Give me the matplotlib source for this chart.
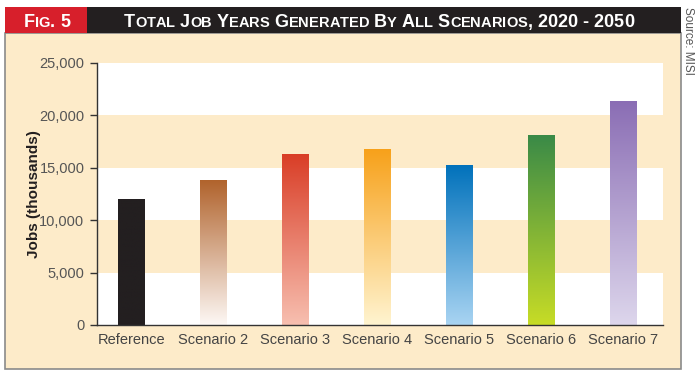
import numpy as np
import matplotlib.pyplot as plt
from matplotlib.colors import LinearSegmentedColormap
from matplotlib.patches import Rectangle

# datos
escenarios = ["Reference", "Scenario 2", "Scenario 3", "Scenario 4",
              "Scenario 5", "Scenario 6", "Scenario 7"]
empleos = [12000, 13850, 16330, 16780, 15280, 18090, 21400]
color_arriba = ["#231f20", "#b0622b", "#d93d26", "#f7a11a", "#0071bb", "#3a8a47", "#8a6db4"]
color_abajo = ["#231f20", "#fdf8f5", "#f7bfb0", "#fff4d0", "#a9d4f2", "#c7dc26", "#ddd6ec"]
yticks = [0, 5000, 10000, 15000, 20000, 25000]

fuente = ["Liberation Sans Narrow", "Liberation Sans", "DejaVu Sans"]
plt.rcParams["font.family"] = fuente

crema = "#fdebc9"
W, H = 700, 374
fig = plt.figure(figsize=(W / 100, H / 100), dpi=100, facecolor="white")

# panel crema y barra de titulo
fig.patches.append(Rectangle((5 / W, (H - 369) / H), 676 / W, 336 / H, transform=fig.transFigure,
                             facecolor=crema, edgecolor="#8a8a8a", linewidth=1.2, zorder=0))
fig.patches.append(Rectangle((5 / W, (H - 33) / H), 676 / W, 26 / H, transform=fig.transFigure,
                             facecolor="#231f20", edgecolor="none", zorder=1))
fig.patches.append(Rectangle((5 / W, (H - 33) / H), 82 / W, 26 / H, transform=fig.transFigure,
                             facecolor="#d71f2b", edgecolor="none", zorder=2))

ax = fig.add_axes([97 / W, (H - 325) / H, 566 / W, 262 / H])
ax.set_zorder(3)
ax.set_facecolor("white")
ax.axhspan(5000, 10000, color=crema, zorder=0, lw=0)
ax.axhspan(15000, 20000, color=crema, zorder=0, lw=0)

x = np.arange(len(escenarios))
barras = ax.bar(x, empleos, width=0.32, color="none", zorder=2)
for b, c1, c2 in zip(barras, color_arriba, color_abajo):
    cmap = LinearSegmentedColormap.from_list("g", [c2, c1])
    grad = np.linspace(0, 1, 256).reshape(-1, 1)
    im = ax.imshow(grad, extent=[b.get_x(), b.get_x() + b.get_width(), 0, b.get_height()],
                   origin="lower", aspect="auto", cmap=cmap, zorder=2)
    im.set_clip_path(b)

ax.set_xlim(-0.42, 6.49)
ax.set_ylim(0, 25000)
ax.set_xticks(x)
ax.set_xticklabels(escenarios, fontsize=10.5, color="#444444")
ax.set_yticks(yticks)
ax.set_yticklabels([f"{v:,}" for v in yticks], fontsize=10.5, color="#555555")
ax.tick_params(axis="x", length=0, pad=6)
ax.tick_params(axis="y", length=5, width=1, color="#333333", pad=4)
for s in ["top", "right"]:
    ax.spines[s].set_visible(False)
for s in ["left", "bottom"]:
    ax.spines[s].set_color("#333333")
    ax.spines[s].set_linewidth(1)
ax.set_ylabel("Jobs (thousands)", fontsize=11, fontweight="bold", color="#231f20", labelpad=-1)

fig.text(688 / W, (H - 7) / H, "Source: MISI", rotation=-90, ha="center", va="top",
         fontsize=8.5, color="#555555")

# versalitas a mano
renderer = fig.canvas.get_renderer()


def trozos(texto, grande, chico):
    partes = []
    for palabra in texto.split(" "):
        for i, ch in enumerate(palabra):
            if ch.isalpha() and i > 0 and palabra[i - 1].isalpha():
                partes.append((ch.upper(), chico))
            else:
                partes.append((ch, grande))
        partes.append((" ", grande))
    return partes[:-1]


def versalitas(texto, xc, yb, grande, chico):
    partes = trozos(texto, grande, chico)
    anchos = []
    for t, s in partes:
        tmp = fig.text(0, 0, t.replace(" ", "\u00a0"), fontsize=s, fontweight="bold")
        anchos.append(tmp.get_window_extent(renderer).width)
        tmp.remove()
    xpos = xc - sum(anchos) / 2
    for (t, s), a in zip(partes, anchos):
        if t != " ":
            fig.text(xpos / W, yb, t, fontsize=s, fontweight="bold", color="white",
                     ha="left", va="baseline", zorder=5)
        xpos += a


versalitas("FIG. 5", 47, (H - 27.3) / H, 13, 10.5)
versalitas("TOTAL JOB YEARS GENERATED BY ALL SCENARIOS, 2020 - 2050", 379, (H - 27.3) / H, 13, 10.5)

fig.savefig("out.png", dpi=100, facecolor="white")
